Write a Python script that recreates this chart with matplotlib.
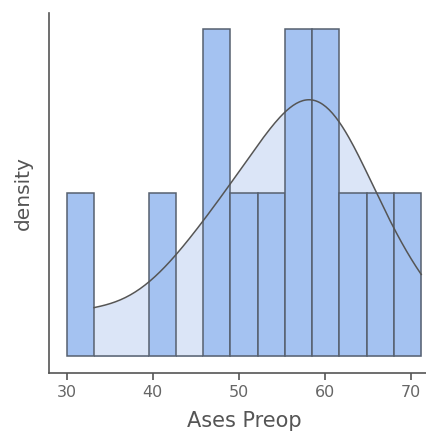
import numpy as np
import matplotlib
matplotlib.use("Agg")
import matplotlib.pyplot as plt

# values of "Ases Preop" (one per patient)
ases_preop = [30.0, 40.8, 47.0, 48.9, 51.5, 55.2, 58.2, 58.4,
              58.6, 60.5, 62.0, 65.0, 71.2]
n_bins = 13
kde_bw = 5.7
kde_start = 33.17

data = np.array(ases_preop)
counts, edges = np.histogram(data, bins=n_bins)
width = edges[1] - edges[0]
dens = counts / (len(data) * width)

# gaussian kde by hand (no scipy)
xs = np.linspace(kde_start, data.max(), 200)
kde = np.exp(-0.5 * ((xs[:, None] - data[None, :]) / kde_bw) ** 2).sum(axis=1)
kde = kde / (len(data) * kde_bw * np.sqrt(2 * np.pi))

fig = plt.figure(figsize=(4.27, 4.32), dpi=100)
ax = fig.add_axes([0.115, 0.137, 0.913, 0.833])
ax.use_sticky_edges = False

ax.fill_between(xs, kde, color="#dbe5f7", zorder=1, lw=0)
ax.bar(edges[:-1], dens, width=width, align="edge", color="#a4c2f1",
       edgecolor="#56606f", linewidth=1.1, zorder=2)
ax.plot(xs, kde, color="#555555", lw=1.1, zorder=3)

ax.set_xticks([30, 40, 50, 60, 70])
ax.set_yticks([])
ax.tick_params(axis="x", colors="#555555", labelsize=11.5, length=5, width=1.2,
               labelcolor="#666666")
for s in ["top", "right"]:
    ax.spines[s].set_visible(False)
for s in ["left", "bottom"]:
    ax.spines[s].set_color("#555555")
    ax.spines[s].set_linewidth(1.2)
ax.set_xlabel("Ases Preop", fontsize=15, color="#555555", labelpad=8)
ax.set_ylabel("density", fontsize=14.5, color="#555555", labelpad=12)

fig.savefig("out.png", dpi=100)
